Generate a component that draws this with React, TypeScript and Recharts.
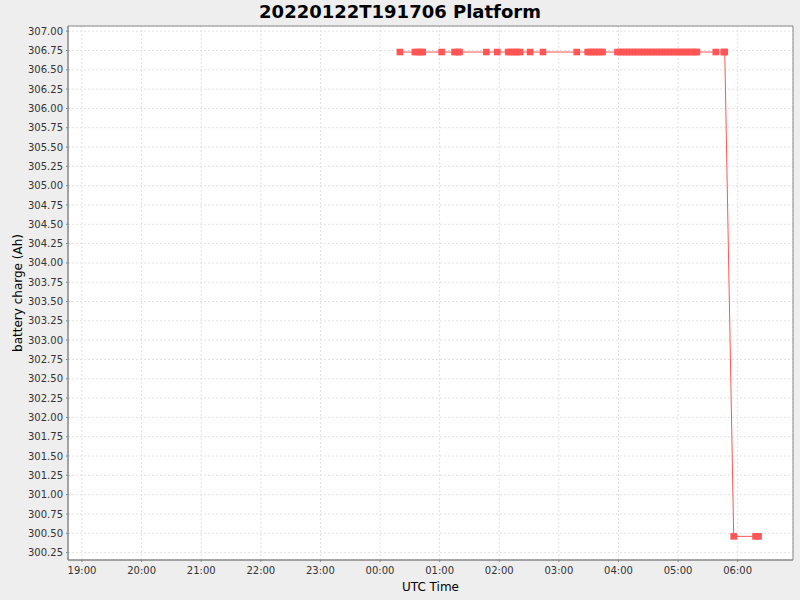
import { CartesianGrid, Line, LineChart, ReferenceArea, XAxis, YAxis } from "recharts";

// sample times (UTC, run started 2022-01-22 19:17) and battery charge in Ah
const times = [
  "00:20", "00:35", "00:38", "00:41", "00:43", "01:02", "01:15", "01:18", "01:20",
  "01:47", "01:58", "02:09", "02:12", "02:15", "02:18", "02:21", "02:31", "02:44",
  "03:18", "03:29", "03:32", "03:35", "03:38", "03:41", "03:44",
  "03:59", "04:02", "04:05", "04:08", "04:11", "04:14", "04:17", "04:20", "04:23",
  "04:26", "04:29", "04:32", "04:35", "04:38", "04:41", "04:44", "04:47", "04:50",
  "04:53", "04:56", "04:59", "05:02", "05:05", "05:08", "05:11", "05:14", "05:17",
  "05:19", "05:38", "05:46", "05:47", "05:56", "06:18", "06:21",
];
const charge = [
  306.73, 306.73, 306.73, 306.73, 306.73, 306.73, 306.73, 306.73, 306.73,
  306.73, 306.73, 306.73, 306.73, 306.73, 306.73, 306.73, 306.73, 306.73,
  306.73, 306.73, 306.73, 306.73, 306.73, 306.73, 306.73,
  306.73, 306.73, 306.73, 306.73, 306.73, 306.73, 306.73, 306.73, 306.73,
  306.73, 306.73, 306.73, 306.73, 306.73, 306.73, 306.73, 306.73, 306.73,
  306.73, 306.73, 306.73, 306.73, 306.73, 306.73, 306.73, 306.73, 306.73,
  306.73, 306.73, 306.73, 306.73, 300.46, 300.46, 300.46,
];
const hourTicks = [
  "19:00", "20:00", "21:00", "22:00", "23:00", "00:00",
  "01:00", "02:00", "03:00", "04:00", "05:00", "06:00",
];
const yTicks = [
  300.25, 300.5, 300.75, 301, 301.25, 301.5, 301.75, 302, 302.25, 302.5, 302.75,
  303, 303.25, 303.5, 303.75, 304, 304.25, 304.5, 304.75, 305, 305.25, 305.5,
  305.75, 306, 306.25, 306.5, 306.75, 307,
];

// minutes after 19:00 on the first day
const toMin = (s: string) => {
  const [h, m] = s.split(":").map(Number);
  let v = h * 60 + m - 19 * 60;
  if (v < 0) v += 1440;
  return v;
};
const fmt = (v: number) => {
  const t = (Math.round(v) + 19 * 60) % 1440;
  const h = Math.floor(t / 60);
  const m = t % 60;
  return `${String(h).padStart(2, "0")}:${String(m).padStart(2, "0")}`;
};

const data = times.map((t, i) => ({ t: toMin(t), v: charge[i] }));
const xDomain = [-14.1, 715.7];
const yDomain = [300.154, 307.067];

const RED = "#FF5555";
const FONT = "'DejaVu Sans', sans-serif";

const SquareDot = (props: any) => {
  const { cx, cy } = props;
  if (cx == null || cy == null) return null;
  return <rect x={cx - 3.3} y={cy - 3.3} width={6.6} height={6.6} fill={RED} />;
};

export default function App() {
  return (
    <div
      style={{
        position: "absolute",
        left: 0,
        top: 0,
        width: 800,
        height: 600,
        background: "#EEEEEE",
        fontFamily: FONT,
      }}
    >
      <div
        style={{
          position: "absolute",
          top: 0,
          left: 0,
          width: 800,
          textAlign: "center",
          fontSize: 18,
          lineHeight: "24px",
          fontWeight: "bold",
          color: "#000",
        }}
      >
        20220122T191706 Platform
      </div>
      <LineChart
        width={800}
        height={600}
        data={data}
        margin={{ top: 26, right: 7, bottom: 0, left: 0 }}
        style={{ fontFamily: FONT }}
      >
        <CartesianGrid
          fill="#FFFFFF"
          stroke="#E2E2E2"
          strokeDasharray="2 2"
        />
        <XAxis
          type="number"
          dataKey="t"
          domain={xDomain}
          ticks={hourTicks.map(toMin)}
          tickFormatter={fmt}
          allowDataOverflow
          height={40}
          tickSize={2}
          tickMargin={5}
          interval={0}
          stroke="#888888"
          tick={{ fill: "#333333", fontSize: 10 }}
          label={{
            value: "UTC Time",
            position: "insideBottom",
            offset: 9,
            fill: "#000",
            fontSize: 12,
          }}
        />
        <YAxis
          type="number"
          dataKey="v"
          domain={yDomain}
          ticks={yTicks}
          tickFormatter={(v: number) => v.toFixed(2)}
          allowDataOverflow
          width={68}
          tickSize={2}
          tickMargin={3}
          interval={0}
          stroke="#888888"
          tick={{ fill: "#333333", fontSize: 10 }}
          label={{
            value: "battery charge (Ah)",
            angle: -90,
            position: "insideLeft",
            offset: 18,
            fill: "#000",
            fontSize: 12,
            style: { textAnchor: "middle" },
          }}
        />
        <ReferenceArea
          x1={xDomain[0]}
          x2={xDomain[1]}
          y1={yDomain[0]}
          y2={yDomain[1]}
          fill="none"
          stroke="#888888"
          strokeWidth={1}
        />
        <Line
          dataKey="v"
          stroke={RED}
          strokeWidth={1}
          dot={<SquareDot />}
          activeDot={false}
          isAnimationActive={false}
        />
      </LineChart>
    </div>
  );
}
